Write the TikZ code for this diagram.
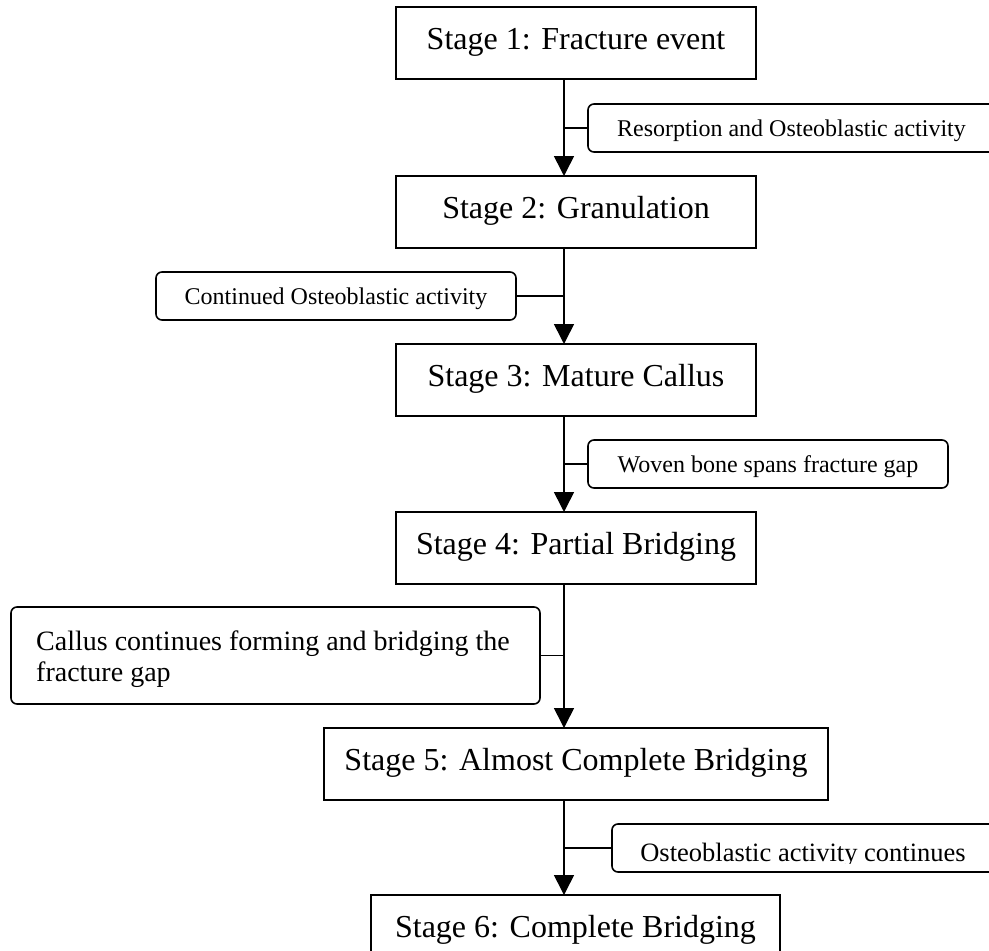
\documentclass[tikz,border=0pt]{standalone}
\usepackage{fontspec}
\setmainfont{Liberation Serif}
\usetikzlibrary{arrows.meta}
\begin{document}
\begin{tikzpicture}[x=1pt,y=-1pt,
  stagebox/.style={draw, line width=1.8pt, inner sep=0pt, outer sep=0pt, anchor=north west,
    text height=22pt, text depth=10pt, font=\fontsize{32}{38}\selectfont, minimum height=72pt},
  notebox/.style={draw, rounded corners=6pt, line width=1.6pt, inner sep=0pt, outer sep=0pt,
    anchor=north west, text height=18pt, text depth=2pt, font=\fontsize{24}{29}\selectfont,
    minimum height=48pt},
  notetext/.style={anchor=base west, inner sep=0pt, font=\fontsize{28}{31}\selectfont},
  link/.style={line width=1.6pt},
  flow/.style={line width=1.6pt, -{Triangle[width=20pt,length=20pt]}}
]
\useasboundingbox (0,0) rectangle (989,951);
\clip (0,0) rectangle (989,951);
\fill[white] (0,0) rectangle (989,951);

\coordinate (lx) at (564,0);

% stage boxes
\node[stagebox, minimum width=360pt] (s1) at (396,7) {Stage 1: Fracture event};
\node[stagebox, minimum width=360pt] (s2) at (396,176) {Stage 2: Granulation};
\node[stagebox, minimum width=360pt] (s3) at (396,344) {Stage 3: Mature Callus};
\node[stagebox, minimum width=360pt] (s4) at (396,512) {Stage 4: Partial Bridging};
\node[stagebox, minimum width=504pt] (s5) at (324,728) {Stage 5: Almost Complete Bridging};
\node[stagebox, minimum width=409pt] (s6) at (371,895) {Stage 6: Complete Bridging};

% note boxes
\node[notebox, minimum width=407pt] (n1) at (588,104) {Resorption and Osteoblastic activity};
\node[notebox, minimum width=360pt] (n2) at (156,272) {Continued Osteoblastic activity};
\node[notebox, minimum width=360pt] (n3) at (588,440) {Woven bone spans fracture gap};
\node[draw, rounded corners=6pt, line width=1.6pt, outer sep=0pt, inner sep=0pt,
  anchor=north west, minimum width=529pt, minimum height=97pt] (n4) at (11,607) {};
\node[notetext] (n4a) at (36,650) {Callus continues forming and bridging the};
\node[notetext] (n4b) at (36,681) {fracture gap};
\node[notebox, minimum width=383pt] (n5) at (612,824) {};
\begin{scope}
  \clip (614,826) rectangle (993,863);
  \node[anchor=base, font=\fontsize{26.5}{32}\selectfont, inner sep=0pt] (n5t) at (803,861)
    {Osteoblastic activity continues};
\end{scope}

% flow
\draw[flow] (s1.south -| lx) -- (s2.north -| lx);
\draw[flow] (s2.south -| lx) -- (s3.north -| lx);
\draw[flow] (s3.south -| lx) -- (s4.north -| lx);
\draw[flow] (s4.south -| lx) -- (s5.north -| lx);
\draw[flow] (s5.south -| lx) -- (s6.north -| lx);

% side links
\draw[link] (n1.west -| lx) -- (n1.west);
\draw[link] (n2.east) -- (n2.east -| lx);
\draw[link] (n3.west -| lx) -- (n3.west);
\draw[link] (n4.east) -- (n4.east -| lx);
\draw[link] (n5.west -| lx) -- (n5.west);
\end{tikzpicture}
\end{document}
